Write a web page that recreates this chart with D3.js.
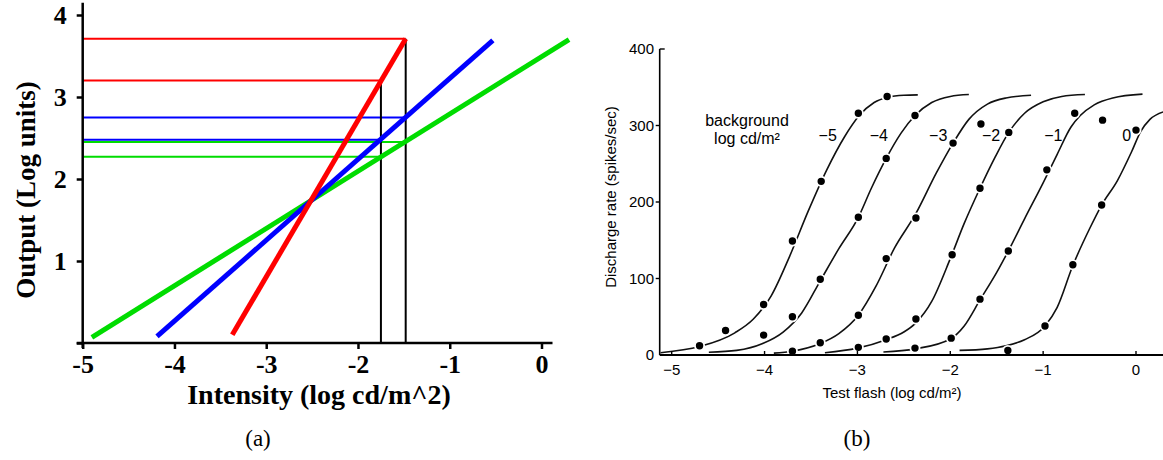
<!DOCTYPE html>
<html>
<head>
<meta charset="utf-8">
<script src="https://cdn.jsdelivr.net/npm/d3@7"></script>
<style>
  html, body { margin: 0; padding: 0; background: #fff; }
  svg { display: block; }
</style>
</head>
<body>
<svg id="fig" width="1163" height="460"></svg>
<script>
// ---------- Panel (a): idealised log-log response lines ----------
const lineColors = ["#00dc00", "#0000ff", "#ff0000"];           // green, blue, red
const lineStarts = [[-4.90, 0.07], [-4.19, 0.08], [-3.37, 0.10]]; // [log intensity, output]
const lineEnds   = [[0.30, 3.70], [-0.53, 3.69], [-1.48, 3.71]];
const probeIntensities = [-1.75, -1.48];
// output of each line at the two probe intensities (green, blue, red)
const probeOutputs = [[2.27, 2.45], [2.48, 2.75], [3.20, 3.71]];
const aTicksX = [-5, -4, -3, -2, -1, 0];
const aTicksY = [0, 1, 2, 3, 4];

// ---------- Panel (b): discharge rate vs test flash ----------
const bgLabels = ["\u22125", "\u22124", "\u22123", "\u22122", "\u22121", "0"];
const bgLabelX = [-3.32, -2.77, -2.13, -1.56, -0.89, -0.10];
const bTicksX = [-5, -4, -3, -2, -1, 0];
const bTicksY = [0, 100, 200, 300, 400];

const fitNeg5 = [[-5.12,3],[-4.7,11],[-4.32,29],[-4.12,47],[-3.93,77],[-3.73,129],[-3.53,188],[-3.33,242],[-3.14,285],[-2.98,313],[-2.82,330],[-2.67,337],[-2.5,339.5],[-2.35,340]];
const fitNeg4 = [[-4.6,3.5],[-4.3,6],[-4.02,15],[-3.8,30],[-3.6,55],[-3.4,97],[-3.2,139],[-2.99,180],[-2.85,218],[-2.69,257],[-2.53,290],[-2.38,313],[-2.2,330],[-2.0,338],[-1.8,340.5]];
const fitNeg3 = [[-3.9,2.5],[-3.7,5],[-3.4,15],[-3.2,28],[-2.99,52],[-2.8,90],[-2.6,140],[-2.37,185],[-2.15,238],[-1.97,277],[-1.8,308],[-1.6,328],[-1.4,336],[-1.13,339.5]];
const fitNeg2 = [[-3.35,3],[-3.0,9],[-2.69,20],[-2.5,30],[-2.37,42],[-2.2,70],[-2.0,126],[-1.85,172],[-1.68,218],[-1.52,258],[-1.37,291],[-1.2,316],[-1.0,331],[-0.8,338],[-0.55,340.5]];
const fitNeg1 = [[-2.72,4],[-2.38,8],[-2.0,21],[-1.85,38],[-1.68,72],[-1.5,108],[-1.375,136],[-1.2,178],[-1.0,225],[-0.85,262],[-0.7,298],[-0.6,313],[-0.45,327],[-0.25,336],[0.07,341]];
const fitZero = [[-1.9,6],[-1.6,8],[-1.4,12],[-1.2,20],[-0.98,38],[-0.85,62],[-0.68,117],[-0.5,165],[-0.37,196],[-0.2,228],[-0.05,265],[0.05,292],[0.15,308],[0.3,318]];

const dotsNeg5 = [[-4.70,12],[-4.42,32],[-4.01,66],[-3.70,149],[-3.39,227],[-2.99,316],[-2.68,338]];
const dotsNeg4 = [[-4.01,26],[-3.70,50],[-3.40,99],[-2.99,180],[-2.69,257],[-2.38,313]];
const dotsNeg3 = [[-3.70,5],[-3.40,16],[-2.99,52],[-2.69,126],[-2.37,179],[-1.97,277],[-1.67,302]];
const dotsNeg2 = [[-2.99,10],[-2.69,21],[-2.37,47],[-1.98,131],[-1.68,218],[-1.37,291]];
const dotsNeg1 = [[-2.38,9],[-1.99,22],[-1.68,73],[-1.375,136],[-0.96,242],[-0.66,316],[-0.36,307]];
const dotsZero = [[-1.38,6],[-0.98,38],[-0.68,118],[-0.37,196],[0.0,294]];

const fits = [fitNeg5, fitNeg4, fitNeg3, fitNeg2, fitNeg1, fitZero];
const dots = [dotsNeg5, dotsNeg4, dotsNeg3, dotsNeg2, dotsNeg1, dotsZero];

const svg = d3.select("#fig");

// ================= Panel (a) =================
const serif = "'Liberation Serif', 'Times New Roman', serif";
const xa = d3.scaleLinear().domain([-5, 0]).range([82.7, 541.5]);
const ya = d3.scaleLinear().domain([0, 4]).range([343, 15]);
const ga = svg.append("g");

// horizontal read-out lines
lineColors.forEach((c, i) => {
  probeIntensities.forEach((p, j) => {
    ga.append("line")
      .attr("x1", xa(-5)).attr("x2", xa(p))
      .attr("y1", ya(probeOutputs[i][j])).attr("y2", ya(probeOutputs[i][j]))
      .attr("stroke", c).attr("stroke-width", 2);
  });
});

// vertical probe lines
probeIntensities.forEach((p, j) => {
  ga.append("line")
    .attr("x1", xa(p)).attr("x2", xa(p))
    .attr("y1", ya(0)).attr("y2", ya(probeOutputs[2][j]))
    .attr("stroke", "#000").attr("stroke-width", 2);
});

// thick response lines
lineColors.forEach((c, i) => {
  ga.append("line")
    .attr("x1", xa(lineStarts[i][0])).attr("y1", ya(lineStarts[i][1]))
    .attr("x2", xa(lineEnds[i][0])).attr("y2", ya(lineEnds[i][1]))
    .attr("stroke", c).attr("stroke-width", 5).attr("stroke-linecap", "butt");
});

// axes
const axA_x = ga.append("g").attr("transform", `translate(0,${ya(0)})`)
  .call(d3.axisBottom(xa).tickValues(aTicksX).tickSize(6).tickSizeOuter(0)
    .tickFormat(d => d === 0 ? "0" : "-" + Math.abs(d)));
const axA_y = ga.append("g").attr("transform", `translate(${xa(-5)},0)`)
  .call(d3.axisLeft(ya).tickValues(aTicksY).tickSize(6).tickSizeOuter(0)
    .tickFormat(d => d === 0 ? "" : d));
[axA_x, axA_y].forEach(ax => {
  ax.select(".domain").remove();
  ax.selectAll(".tick line").attr("stroke", "#000").attr("stroke-width", 2.5);
  ax.selectAll("text").attr("font-family", serif).attr("font-weight", "bold")
    .attr("font-size", 26).attr("fill", "#000");
});
axA_x.selectAll("text").attr("y", 30).attr("dy", 0);
axA_y.selectAll("text").attr("x", -16).attr("dy", "0.34em");

ga.append("line").attr("x1", xa(-5)).attr("x2", xa(-5))
  .attr("y1", ya(4.15)).attr("y2", ya(0) + 5)
  .attr("stroke", "#000").attr("stroke-width", 2.5);
ga.append("line").attr("x1", xa(-5) - 6).attr("x2", xa(0.12))
  .attr("y1", ya(0)).attr("y2", ya(0))
  .attr("stroke", "#000").attr("stroke-width", 2.5);

ga.append("text").attr("x", 319).attr("y", 404).attr("text-anchor", "middle")
  .attr("font-family", serif).attr("font-weight", "bold").attr("font-size", 28)
  .text("Intensity (log cd/m^2)");
ga.append("text").attr("transform", "translate(35,190) rotate(-90)")
  .attr("text-anchor", "middle")
  .attr("font-family", serif).attr("font-weight", "bold").attr("font-size", 27)
  .text("Output (Log units)");

// ================= Panel (b) =================
const sans = "'Liberation Sans', Arial, Helvetica, sans-serif";
const xb = d3.scaleLinear().domain([-5, 0]).range([671.7, 1136]);
const yb = d3.scaleLinear().domain([0, 400]).range([355, 49]);
const gb = svg.append("g");

const lineGen = d3.line().x(d => xb(d[0])).y(d => yb(d[1])).curve(d3.curveMonotoneX);
fits.forEach(f => {
  gb.append("path").attr("d", lineGen(f))
    .attr("fill", "none").attr("stroke", "#111").attr("stroke-width", 1.6);
});
dots.forEach(ds => {
  gb.selectAll(null).data(ds).enter().append("circle")
    .attr("cx", d => xb(d[0])).attr("cy", d => yb(d[1]))
    .attr("r", 4.6).attr("fill", "#000")
    .attr("stroke", "#fff").attr("stroke-width", 1.8);
});

// axes
gb.append("line").attr("x1", xb(-5) - 12).attr("x2", 1163)
  .attr("y1", yb(0)).attr("y2", yb(0)).attr("stroke", "#000").attr("stroke-width", 2);
gb.append("line").attr("x1", xb(-5) - 12).attr("x2", xb(-5) - 12)
  .attr("y1", yb(400)).attr("y2", yb(0)).attr("stroke", "#000").attr("stroke-width", 1.6);
gb.selectAll(null).data(bTicksX).enter().append("line")
  .attr("x1", d => xb(d)).attr("x2", d => xb(d))
  .attr("y1", yb(0)).attr("y2", yb(0) - 4)
  .attr("stroke", "#000").attr("stroke-width", 1.4);
gb.selectAll(null).data(bTicksX).enter().append("text")
  .attr("x", d => xb(d)).attr("y", 375).attr("text-anchor", "middle")
  .attr("font-family", sans).attr("font-size", 15)
  .text(d => d === 0 ? "0" : "\u2212" + Math.abs(d));
gb.selectAll(null).data(bTicksY.filter(d => d > 0)).enter().append("line")
  .attr("x1", d => xb(-5) - 12 + (d === 400 ? 5 : -4)).attr("x2", xb(-5) - 12)
  .attr("y1", d => yb(d)).attr("y2", d => yb(d))
  .attr("stroke", "#000").attr("stroke-width", 1.4);
gb.selectAll(null).data(bTicksY).enter().append("text")
  .attr("x", 654).attr("y", d => yb(d)).attr("dy", "0.36em")
  .attr("text-anchor", "end")
  .attr("font-family", sans).attr("font-size", 15)
  .text(d => d);

gb.append("text").attr("x", 892).attr("y", 398).attr("text-anchor", "middle")
  .attr("font-family", sans).attr("font-size", 15)
  .text("Test flash (log cd/m\u00b2)");
gb.append("text").attr("transform", "translate(616,197) rotate(-90)")
  .attr("text-anchor", "middle")
  .attr("font-family", sans).attr("font-size", 15)
  .text("Discharge rate (spikes/sec)");

gb.append("text").attr("x", 747).attr("y", 126).attr("text-anchor", "middle")
  .attr("font-family", sans).attr("font-size", 16).text("background");
gb.append("text").attr("x", 747).attr("y", 144).attr("text-anchor", "middle")
  .attr("font-family", sans).attr("font-size", 16).text("log cd/m\u00b2");
gb.selectAll(null).data(bgLabels).enter().append("text")
  .attr("x", (d, i) => xb(bgLabelX[i])).attr("y", 141).attr("text-anchor", "middle")
  .attr("font-family", sans).attr("font-size", 16)
  .text(d => d);

// ================= captions =================
svg.append("text").attr("x", 258).attr("y", 446).attr("text-anchor", "middle")
  .attr("font-family", serif).attr("font-size", 23).text("(a)");
svg.append("text").attr("x", 857).attr("y", 446).attr("text-anchor", "middle")
  .attr("font-family", serif).attr("font-size", 23).text("(b)");
</script>
</body>
</html>
